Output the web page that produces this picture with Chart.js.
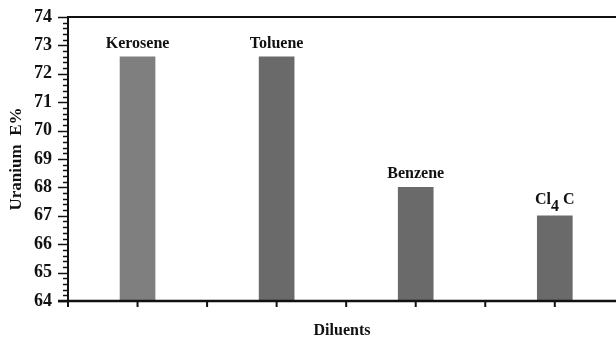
<!DOCTYPE html>
<html><head><meta charset="utf-8">
<script src="https://cdn.jsdelivr.net/npm/chart.js@4"></script>
<style>html,body{margin:0;padding:0;background:#fff}#wrap{width:616px;height:339px}</style>
</head><body><div id="wrap"><canvas id="c" width="616" height="339"></canvas></div>
<script>
// ---- data ----
const categories = ['Kerosene', 'Toluene', 'Benzene', 'Cl4C'];
const values = [72.6, 72.6, 68.0, 67.0];
const barColors = ['#7f7f7f', '#6a6a6a', '#6a6a6a', '#6a6a6a'];
const yMin = 64, yMax = 74;
const xTitle = 'Diluents';
const yTitle = 'Uranium  E%';

const SERIF = "'Liberation Serif', 'Times New Roman', serif";

function drawLabel(ctx, text, cx, baseY) {
  // digits rendered as subscripts (chemical formula)
  ctx.font = 'bold 16px ' + SERIF;
  const parts = [];
  let buf = '';
  for (const ch of text) {
    const isDigit = ch >= '0' && ch <= '9';
    if (buf && (/[0-9]/.test(buf[0]) !== isDigit)) { parts.push(buf); buf = ''; }
    buf += ch;
  }
  if (buf) parts.push(buf);
  const gap = 4;
  let total = 0;
  const widths = parts.map(p => ctx.measureText(p).width);
  parts.forEach((p, i) => { total += widths[i]; if (/[0-9]/.test(p[0]) && i < parts.length - 1) total += gap; });
  let x = cx - total / 2;
  const hasSub = parts.length > 1;
  ctx.textAlign = 'left';
  ctx.textBaseline = 'alphabetic';
  parts.forEach((p, i) => {
    const sub = /[0-9]/.test(p[0]);
    const y = hasSub ? (sub ? baseY + 4 : baseY - 3) : baseY;
    ctx.fillText(p, x, y);
    x += widths[i] + (sub && i < parts.length - 1 ? gap : 0);
  });
}

const axisPlugin = {
  id: 'axes',
  afterDatasetsDraw(chart) {
    const { ctx, chartArea: ca, scales: { x, y } } = chart;
    ctx.save();
    ctx.strokeStyle = '#111';
    const line = (x1, y1, x2, y2) => { ctx.beginPath(); ctx.moveTo(x1, y1); ctx.lineTo(x2, y2); ctx.stroke(); };
    // top frame
    ctx.lineWidth = 2;
    line(ca.left, ca.top, ca.right, ca.top);
    // y axis
    line(ca.left, ca.top - 1, ca.left, ca.bottom + 6);
    // x axis
    ctx.lineWidth = 2.5;
    line(ca.left - 10, ca.bottom, ca.right, ca.bottom);
    // y ticks
    ctx.lineWidth = 1.5;
    for (let k = 0; k <= (yMax - yMin) * 5; k++) {
      const v = yMin + k / 5;
      const py = Math.round(y.getPixelForValue(v)) + 0.5;
      const len = (k % 5 === 0) ? 10 : 5;
      line(ca.left - len, py, ca.left, py);
    }
    // x ticks (category edges and centres)
    ctx.lineWidth = 2;
    for (let k = 0; k <= x.max * 2; k++) {
      const px = x.getPixelForValue(k / 2);
      line(px, ca.bottom, px, ca.bottom + 6);
    }
    // bar labels
    ctx.fillStyle = '#111';
    const meta = chart.getDatasetMeta(0);
    meta.data.forEach((el, i) => {
      drawLabel(ctx, categories[i], el.x, el.y - 9);
    });
    ctx.restore();
  }
};

new Chart(document.getElementById('c'), {
  type: 'bar',
  data: {
    datasets: [{
      data: categories.map((c, i) => ({ x: i + 0.5, y: values[i] })),
      backgroundColor: barColors,
      borderWidth: 0,
      barThickness: 35
    }]
  },
  options: {
    responsive: false,
    animation: false,
    layout: { padding: { top: 17, left: 0, right: 0, bottom: 0 } },
    plugins: { legend: { display: false }, tooltip: { enabled: false } },
    scales: {
      x: {
        type: 'linear',
        offset: false,
        min: 0,
        max: 3.94,
        grid: { display: false, drawTicks: false, offset: false },
        border: { display: false },
        ticks: { display: false },
        title: { display: true, text: xTitle, color: '#111', font: { family: SERIF, size: 16, weight: 'bold', lineHeight: 1 }, padding: { top: 0, bottom: 0 } },
        afterFit: s => { s.height = 38; s.paddingLeft = 0; s.paddingRight = 0; }
      },
      y: {
        min: yMin,
        max: yMax,
        grid: { display: false, drawTicks: false },
        border: { display: false },
        ticks: { stepSize: 1, color: '#111', padding: 16, font: { family: SERIF, size: 18, weight: 'bold' } },
        title: { display: true, text: yTitle, color: '#111', font: { family: SERIF, size: 17, weight: 'bold' }, padding: { top: 6, bottom: 0 } },
        afterFit: s => { s.width = 68; s.paddingTop = 0; s.paddingBottom = 0; }
      }
    }
  },
  plugins: [axisPlugin]
});
</script>
</body></html>
